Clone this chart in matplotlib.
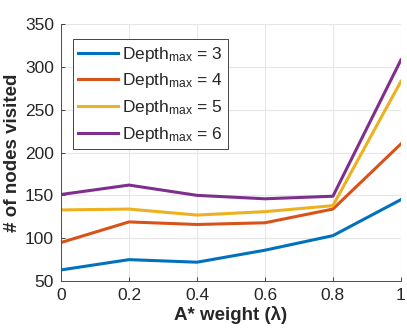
import matplotlib
matplotlib.use("Agg")
import matplotlib.pyplot as plt

plt.rcParams['font.family'] = ['Liberation Sans', 'DejaVu Sans']
plt.rcParams['mathtext.fontset'] = 'custom'
plt.rcParams['mathtext.rm'] = 'Liberation Sans'
plt.rcParams['mathtext.it'] = 'Liberation Sans:italic'

# poids A* et noeuds visités pour chaque profondeur max
weights = [0, 0.2, 0.4, 0.6, 0.8, 1.0]
depth3 = [63, 75, 72, 86, 103, 145]
depth4 = [95, 119, 116, 118, 134, 210]
depth5 = [133, 134, 127, 131, 138, 283]
depth6 = [151, 162, 150, 146, 149, 308]
depths = [3, 4, 5, 6]
colors = ['#0072BD', '#D95319', '#EDB120', '#7E2F8E']

fig = plt.figure(figsize=(4.07, 3.33), dpi=100)
ax = fig.add_axes([0.150, 0.156, 0.835, 0.772])

for d, vals, c in zip(depths, [depth3, depth4, depth5, depth6], colors):
    ax.plot(weights, vals, color=c, linewidth=2.2,
            label=r'Depth$_{\mathrm{max}}$ = %d' % d)

ax.set_xlim(0, 1)
ax.set_ylim(50, 350)
ax.set_xticks([0, 0.2, 0.4, 0.6, 0.8, 1])
ax.set_xticklabels(['0', '0.2', '0.4', '0.6', '0.8', '1'])
ax.set_yticks(range(50, 351, 50))
ax.grid(True, color='#e6e6e6', linewidth=0.8)
ax.set_axisbelow(True)
ax.tick_params(direction='in', length=3, labelsize=12.5, colors='#262626',
               width=0.6, pad=5)
for s in ['top', 'right']:
    ax.spines[s].set_visible(False)
for s in ['left', 'bottom']:
    ax.spines[s].set_color('#4d4d4d')
    ax.spines[s].set_linewidth(0.7)

ax.set_xlabel('A* weight (λ)', fontsize=13.5, fontweight='bold', labelpad=2,
              color='#262626')
ax.set_ylabel('# of nodes visited', fontsize=13.5, fontweight='bold',
              labelpad=3, color='#262626')

leg = ax.legend(loc='upper left', bbox_to_anchor=(0.02, 0.96), fontsize=12.5,
                fancybox=False, framealpha=1, edgecolor='#262626',
                handlelength=2.3, handletextpad=0.2, borderpad=0.3,
                labelspacing=0.45, borderaxespad=0.3)
leg.get_frame().set_linewidth(0.6)
for t in leg.get_texts():
    t.set_color('#262626')

fig.savefig("out.png", dpi=100)
